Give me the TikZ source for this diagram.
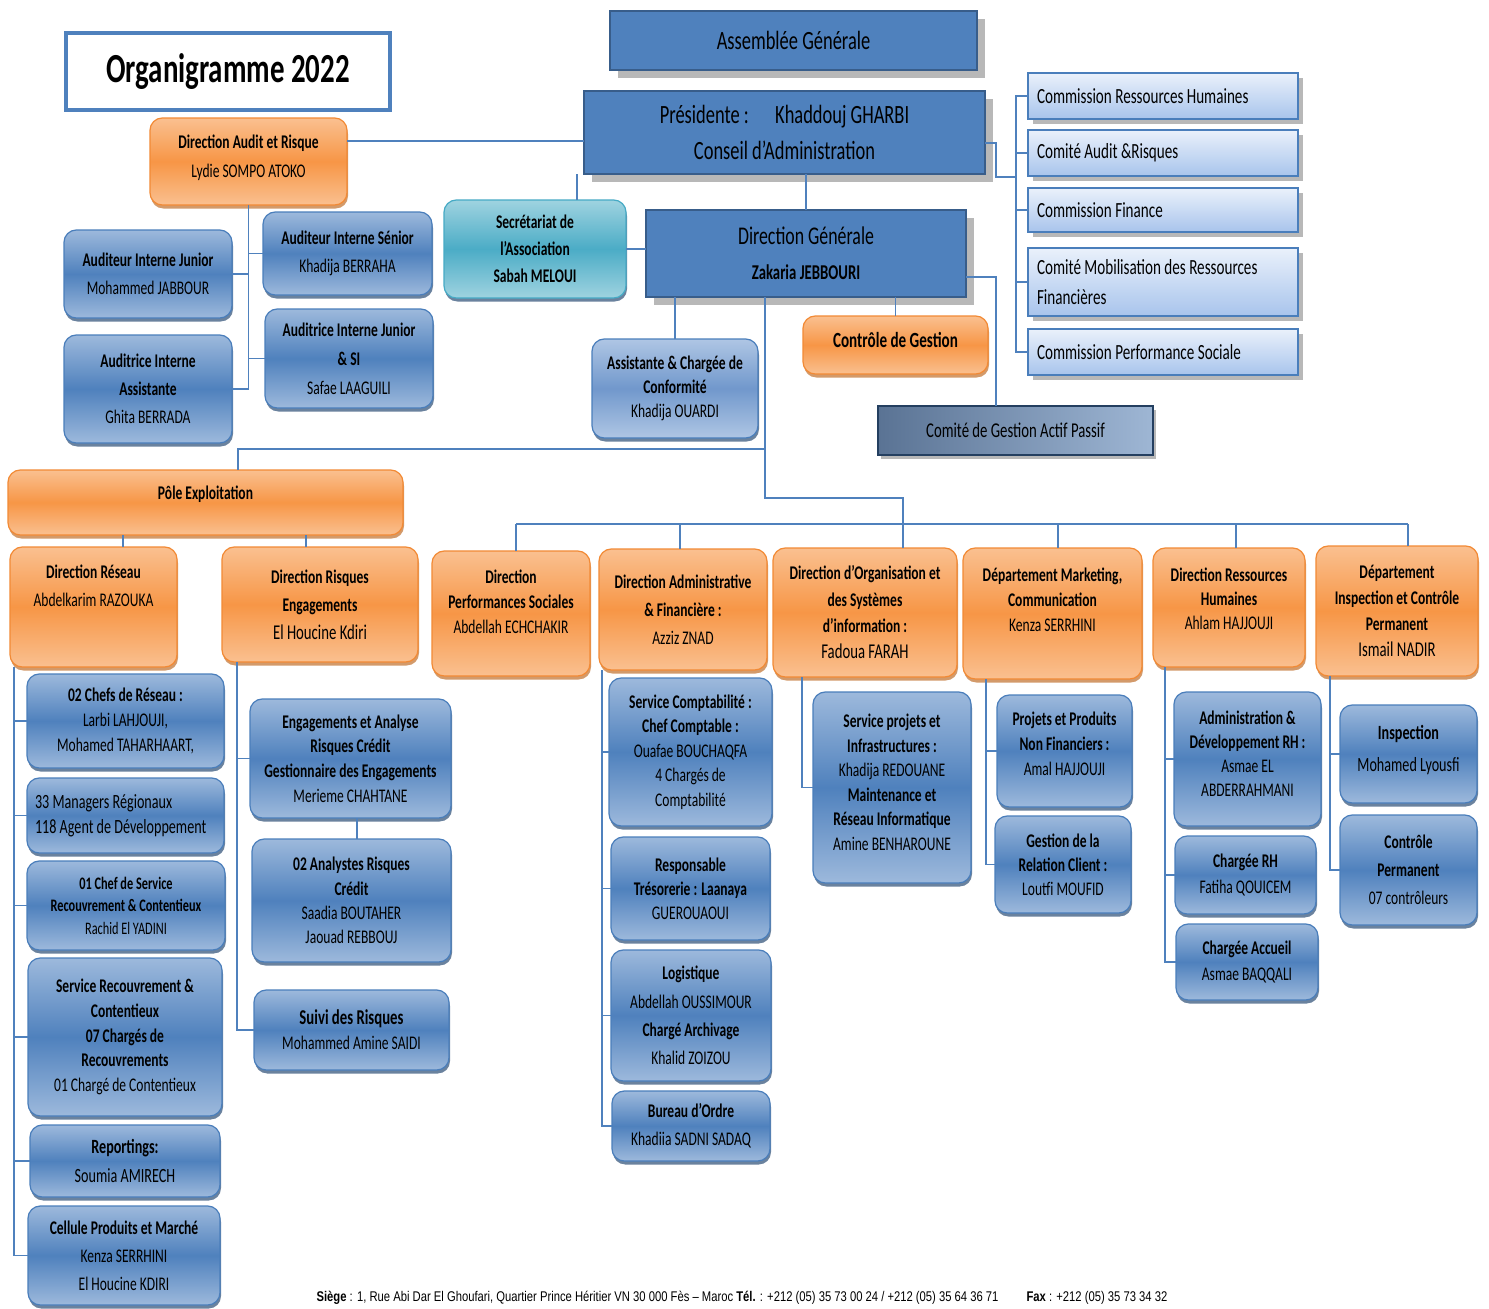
\documentclass[tikz,border=0pt]{standalone}
\usepackage{fontspec}
\setmainfont{Carlito}[FakeStretch=0.7]
\newfontfamily\footfont{Liberation Sans}[FakeStretch=0.8]
\usetikzlibrary{shadows}

\definecolor{linkblue}{HTML}{4F81BD}
\definecolor{orangelight}{HTML}{FAC090}
\definecolor{orangemid}{HTML}{F79646}
\definecolor{orangeedge}{HTML}{F28A35}
\definecolor{orangedark}{HTML}{B65708}
\definecolor{bluelight}{HTML}{9DB9DC}
\definecolor{bluemid}{HTML}{4F81BD}
\definecolor{blueedge}{HTML}{4A7EBB}
\definecolor{bluedark}{HTML}{2C4D75}
\definecolor{palelight}{HTML}{AFC6E4}
\definecolor{palemid}{HTML}{7198CC}
\definecolor{teallight}{HTML}{9FD3E0}
\definecolor{tealmid}{HTML}{4BACC6}
\definecolor{tealedge}{HTML}{46AAC5}
\definecolor{darkedge}{HTML}{385D8A}
\definecolor{shadowgray}{HTML}{B8B8B8}
\definecolor{commtop}{HTML}{EAF1FB}
\definecolor{commbottom}{HTML}{A8C4EC}
\definecolor{gapdark}{HTML}{5A7394}
\definecolor{gaplight}{HTML}{9EB6D4}
\definecolor{gapedge}{HTML}{243F60}

\newcommand\lift[1]{\rule[-#1]{0pt}{#1}}

\tikzset{
  sz/.style 2 args={minimum width=#1*0.02cm, minimum height=#2*0.02cm, anchor=north west},
  fs/.style 2 args={font=\fontsize{#1}{#2}\selectfont},
  link/.style={draw=linkblue, line width=1.1pt},
  orgbox/.style={outer sep=0pt, inner sep=1pt, align=center, text=black, fs={11}{14.5}},
  orangebox/.style={orgbox, rounded corners=7pt, draw=orangeedge, line width=0.7pt,
    top color=orangelight, bottom color=orangelight, middle color=orangemid,
    drop shadow={shadow xshift=0.02cm, shadow yshift=-0.07cm, fill=orangedark, opacity=0.6}},
  bluebox/.style={orgbox, rounded corners=7pt, draw=blueedge, line width=0.7pt,
    top color=bluelight, bottom color=bluelight, middle color=bluemid,
    drop shadow={shadow xshift=0.02cm, shadow yshift=-0.07cm, fill=bluedark, opacity=0.7}},
  palebox/.style={bluebox, top color=palelight, bottom color=palelight, middle color=palemid},
  tealbox/.style={bluebox, draw=tealedge, top color=teallight, bottom color=teallight, middle color=tealmid},
  darkbox/.style={orgbox, fill=bluemid, draw=darkedge, line width=1.6pt,
    drop shadow={shadow xshift=0.16cm, shadow yshift=-0.16cm, fill=shadowgray, opacity=1}},
  commbox/.style={orgbox, align=flush left, text width=5.04cm, inner xsep=0.18cm, draw=blueedge, line width=0.8pt,
    top color=commtop, bottom color=commbottom, fs={12.3}{17.5},
    drop shadow={shadow xshift=0.1cm, shadow yshift=-0.1cm, fill=shadowgray, opacity=1}},
  gapbox/.style={orgbox, left color=gapdark, right color=gaplight, draw=gapedge, line width=1.3pt, fs={12}{14},
    drop shadow={shadow xshift=0.06cm, shadow yshift=-0.08cm, fill=shadowgray, opacity=1}},
  titlebox/.style={orgbox, fill=white, draw=linkblue, line width=2.3pt, font=\fontsize{23.5}{27}\selectfont\bfseries},
}

\begin{document}
\begin{tikzpicture}[x=0.02cm, y=-0.02cm]

\path[fill=white] (0,0) rectangle (1489,1309);
\useasboundingbox (0,0) rectangle (1489,1309);

% direction et conseil
\node[titlebox, sz={324}{77}] (title) at (66,33) {Organigramme 2022};
\node[darkbox, sz={367}{59}, fs={15}{18}] (ag) at (610,11) {Assemblée Générale};
\node[darkbox, sz={401}{83}, fs={15}{20.5}] (pres) at (584,91) {Présidente :\quad Khaddouj GHARBI\\Conseil d’Administration};
\node[darkbox, sz={320}{87}, fs={12}{16}] (dg) at (646,210) {{\fontsize{14.5}{18}\selectfont Direction Générale}\\[4pt]\textbf{Zakaria JEBBOURI}};
\node[orangebox, sz={197}{87}, fs={11}{16}] (dar) at (150,118) {\textbf{Direction Audit et Risque}\\Lydie SOMPO ATOKO\lift{6pt}};
\node[tealbox, sz={182}{98}, fs={11}{15.4}] (sec) at (444,200) {\textbf{Secrétariat de}\\\textbf{l’Association}\\\textbf{Sabah MELOUI}};
\node[palebox, sz={166}{99}, fs={11}{13.7}] (aco) at (592,339) {\textbf{Assistante \& Chargée de}\\\textbf{Conformité}\\Khadija OUARDI};
\node[orangebox, sz={185}{58}, fs={12.3}{15}] (cdg) at (803,316) {\textbf{Contrôle de Gestion}\lift{6pt}};
\node[gapbox, sz={275}{49}] (cgap) at (878,406) {Comité de Gestion Actif Passif};

\node[commbox, sz={270}{46}] (comrh) at (1028,73) {Commission Ressources Humaines};
\node[commbox, sz={270}{46}] (comaud) at (1028,130) {Comité Audit \&Risques};
\node[commbox, sz={270}{44}] (comfin) at (1028,188) {Commission Finance};
\node[commbox, sz={268}{68}] (commob) at (1028,248) {Comité Mobilisation des Ressources\\Financières};
\node[commbox, sz={270}{46}] (comperf) at (1028,329) {Commission Performance Sociale};

% audit
\node[bluebox, sz={168}{88}, fs={11}{16}] (aij) at (64,230) {\textbf{Auditeur Interne Junior}\\Mohammed JABBOUR};
\node[bluebox, sz={169}{83}, fs={11}{16}] (ais) at (263,212) {\textbf{Auditeur Interne Sénior}\\Khadija BERRAHA};
\node[bluebox, sz={168}{108}, fs={11}{16}] (aia) at (64,335) {\textbf{Auditrice Interne}\\\textbf{Assistante}\\Ghita BERRADA};
\node[bluebox, sz={168}{99}, fs={11}{16.5}] (aij2) at (265,309) {\textbf{Auditrice Interne Junior}\\\textbf{\& SI}\\Safae LAAGUILI};

% directions
\node[orangebox, sz={395}{65}] (pole) at (8,470) {\textbf{Pôle Exploitation}\lift{11pt}};
\node[orangebox, sz={167}{120}, fs={11}{16}] (dres) at (10,547) {\textbf{Direction Réseau}\\Abdelkarim RAZOUKA\lift{24pt}};
\node[orangebox, sz={196}{115}, fs={11}{16}] (drisk) at (222,547) {\textbf{Direction Risques}\\\textbf{Engagements}\\{\fontsize{12}{16}\selectfont El Houcine Kdiri}};
\node[orangebox, sz={158}{125}, fs={11}{14.2}] (dperf) at (432,551) {\textbf{Direction}\\\textbf{Performances Sociales}\\Abdellah ECHCHAKIR\lift{13pt}};
\node[orangebox, sz={168}{121}, fs={11}{16}] (dadm) at (599,549) {\textbf{Direction Administrative}\\\textbf{\& Financière :}\\Azziz ZNAD};
\node[orangebox, sz={184}{129}, fs={11}{15}] (dorg) at (773,548) {\textbf{Direction d’Organisation et}\\\textbf{des Systèmes}\\\textbf{d’information :}\\{\fontsize{12}{15}\selectfont Fadoua FARAH}};
\node[orangebox, sz={179}{131}, fs={11}{14.2}] (dmkt) at (963,548) {\textbf{Département Marketing,}\\\textbf{Communication}\\Kenza SERRHINI\lift{16pt}};
\node[orangebox, sz={152}{119}, fs={11}{13.7}] (drh) at (1153,548) {\textbf{Direction Ressources}\\\textbf{Humaines}\\Ahlam HAJJOUJI\lift{10pt}};
\node[orangebox, sz={162}{130}, fs={11}{14.8}] (dinsp) at (1316,546) {\textbf{Département}\\\textbf{Inspection et Contrôle}\\\textbf{Permanent}\\{\fontsize{12}{15}\selectfont Ismail NADIR}};

% reseau
\node[bluebox, sz={197}{94}, fs={11}{14.2}] (chefs) at (27,674) {\textbf{02 Chefs de Réseau :}\\Larbi LAHJOUJI,\\Mohamed TAHARHAART,};
\node[bluebox, sz={197}{75}, fs={11.5}{14.2}, align=flush left, text width=3.62cm] (mgr) at (27,778) {33 Managers Régionaux\\118 Agent de Développement};
\node[bluebox, sz={198}{89}, fs={10}{12.8}] (chsv) at (27,861) {\textbf{01 Chef de Service}\\\textbf{Recouvrement \& Contentieux}\\Rachid El YADINI};
\node[bluebox, sz={194}{158}, fs={11}{14}] (srec) at (28,958) {\textbf{Service Recouvrement \&}\\\textbf{Contentieux}\\\textbf{07 Chargés de}\\\textbf{Recouvrements}\\01 Chargé de Contentieux};
\node[bluebox, sz={190}{72}, fs={11.5}{16}] (rep) at (30,1125) {\textbf{Reportings:}\\Soumia AMIRECH};
\node[bluebox, sz={192}{99}, fs={11}{16}] (cell) at (28,1206) {\textbf{Cellule Produits et Marché}\\Kenza SERRHINI\\El Houcine KDIRI};

% risques
\node[bluebox, sz={201}{119}, fs={11}{14}] (eng) at (250,699) {\textbf{Engagements et Analyse}\\\textbf{Risques Crédit}\\\textbf{Gestionnaire des Engagements}\\Merieme CHAHTANE};
\node[bluebox, sz={199}{123}, fs={11}{13.9}] (ana) at (252,839) {\textbf{02 Analystes Risques}\\\textbf{Crédit}\\Saadia BOUTAHER\\Jaouad REBBOUJ};
\node[bluebox, sz={195}{80}, fs={11}{14.2}] (suivi) at (254,990) {{\fontsize{12}{14}\selectfont\textbf{Suivi des Risques}}\\Mohammed Amine SAIDI};

% administration
\node[bluebox, sz={163}{148}, fs={11}{14}] (compta) at (609,678) {\textbf{Service Comptabilité :}\\\textbf{Chef Comptable :}\\Ouafae BOUCHAQFA\\4 Chargés de\\Comptabilité};
\node[bluebox, sz={159}{103}, fs={11}{13.7}] (treso) at (611,837) {\textbf{Responsable}\\\textbf{Trésorerie : Laanaya}\\GUEROUAOUI};
\node[bluebox, sz={160}{131}, fs={11}{16.1}] (logi) at (611,950) {\textbf{Logistique}\\Abdellah OUSSIMOUR\\\textbf{Chargé Archivage}\\Khalid ZOIZOU};
\node[bluebox, sz={158}{70}, fs={11}{16}] (bur) at (612,1091) {\textbf{Bureau d’Ordre}\\Khadiia SADNI SADAQ};

% organisation, marketing, rh, inspection
\node[bluebox, sz={158}{191}, fs={11}{13.9}] (sproj) at (813,692) {\textbf{Service projets et}\\\textbf{Infrastructures :}\\Khadija REDOUANE\\\textbf{Maintenance et}\\\textbf{Réseau Informatique}\\Amine BENHAROUNE\lift{6pt}};
\node[bluebox, sz={135}{112}, fs={11}{14.2}] (ppnf) at (997,695) {\textbf{Projets et Produits}\\\textbf{Non Financiers :}\\Amal HAJJOUJI\lift{8pt}};
\node[bluebox, sz={136}{97}, fs={11}{13.7}] (grc) at (995,816) {\textbf{Gestion de la}\\\textbf{Relation Client :}\\Loutfi MOUFID};
\node[bluebox, sz={147}{134}, fs={11}{13.7}] (adrh) at (1174,692) {\textbf{Administration \&}\\\textbf{Développement RH :}\\Asmae EL\\ABDERRAHMANI\lift{6pt}};
\node[bluebox, sz={141}{78}, fs={11}{14.8}] (chrh) at (1175,836) {\textbf{Chargée RH}\\Fatiha QOUICEM};
\node[bluebox, sz={142}{76}, fs={11}{14.8}] (accueil) at (1176,924) {\textbf{Chargée Accueil}\\Asmae BAQQALI};
\node[bluebox, sz={137}{98}, fs={11.5}{18.2}] (insp) at (1340,705) {\textbf{Inspection}\\Mohamed Lyousfi\lift{6pt}};
\node[bluebox, sz={137}{110}, fs={11}{16}] (cperm) at (1340,815) {\textbf{Contrôle}\\\textbf{Permanent}\\07 contrôleurs};

\node[fs={8}{10}, inner sep=0pt] (foot) at (742,1298) {\footfont\textbf{Siège} : 1, Rue Abi Dar El Ghoufari, Quartier Prince Héritier VN 30 000 Fès – Maroc \textbf{Tél.} : +212 (05) 35 73 00 24 / +212 (05) 35 64 36 71\hspace{2em}\textbf{Fax} : +212 (05) 35 73 34 32};

% liaisons
\coordinate (cbus) at (1016,177);
\coordinate (b1) at (765,449);
\coordinate (b2) at (765,498);
\coordinate (b3) at (903,524);
\draw[link] (dar.east |- 0,141) -- (pres.west |- 0,141);
\draw[link] (pres.east |- 0,143) -- ++(11,0) |- (cbus);
\foreach \c in {comrh,comaud,comfin,commob,comperf}
  \draw[link] (cbus) |- (\c.west);
\draw[link] (dg.north) -- (dg.north |- pres.south);
\draw[link] (sec.north -| 577,0) -- (pres.south -| 577,0);
\draw[link] (sec.east) -- (sec.east -| dg.west);
\foreach \c/\s in {aij/east,ais/west,aia/east,aij2/west}
  \draw[link] (dar.south) |- (\c.\s);
\draw[link] (aco.north) -- (aco.north |- dg.south);
\draw[link] (cdg.north) -- (cdg.north |- dg.south);
\draw[link] (dg.east |- 0,277) -| (cgap.north -| 996,0);

\draw[link] (dg.south -| b1) -- (b2) -| (dorg.north -| b3);
\draw[link] (b1) -| (pole.north -| 238,0);
\draw[link] (b3 -| 516,0) -- (b3 -| 1408,0);
\foreach \d/\x in {dperf/516,dadm/680,dmkt/1058,drh/1236,dinsp/1408}
  \draw[link] (\d.north -| \x,0) -- (b3 -| \x,0);
\foreach \d/\x in {dres/123,drisk/306}
  \draw[link] (pole.south -| \x,0) -- (\d.north -| \x,0);

\foreach \s in {chefs,mgr,chsv,srec,rep,cell}
  \draw[link] (dres.south -| 14,0) |- (\s.west);
\foreach \s in {eng,suivi}
  \draw[link] (drisk.south -| 237,0) |- (\s.west);
\draw[link] (eng.south -| 357,0) -- (ana.north -| 357,0);
\foreach \s in {compta,treso,logi,bur}
  \draw[link] (dadm.south -| 602,0) |- (\s.west);
\draw[link] (dorg.south -| 802,0) |- (sproj.west);
\foreach \s in {ppnf,grc}
  \draw[link] (dmkt.south -| 986,0) |- (\s.west);
\foreach \s in {adrh,chrh,accueil}
  \draw[link] (drh.south -| 1165,0) |- (\s.west);
\foreach \s in {insp,cperm}
  \draw[link] (dinsp.south -| 1330,0) |- (\s.west);

\end{tikzpicture}
\end{document}
